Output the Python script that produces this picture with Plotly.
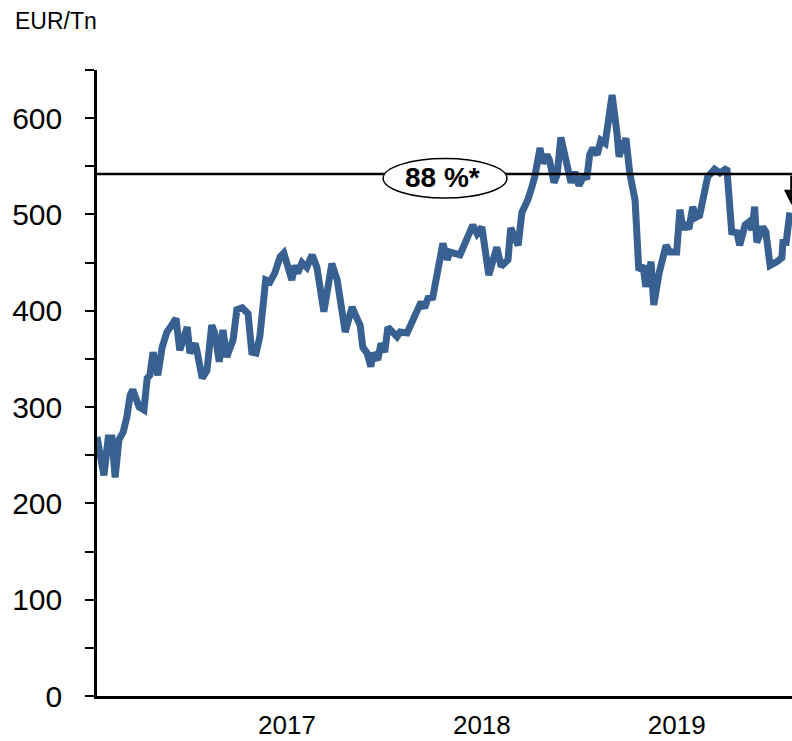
import plotly.graph_objects as go

dates = [
    "2016-01-01", "2016-01-14", "2016-01-22", "2016-01-29", "2016-02-04", "2016-02-11", "2016-02-19", "2016-02-26",
    "2016-03-03", "2016-03-08", "2016-03-20", "2016-03-29", "2016-04-04", "2016-04-09", "2016-04-15", "2016-04-24",
    "2016-05-02", "2016-05-11", "2016-05-20", "2016-05-28", "2016-06-04", "2016-06-18", "2016-06-23", "2016-07-03",
    "2016-07-06", "2016-07-16", "2016-07-25", "2016-08-03", "2016-08-09", "2016-08-17", "2016-08-24", "2016-08-31",
    "2016-09-12", "2016-09-19", "2016-09-29", "2016-10-10", "2016-10-17", "2016-10-25", "2016-11-01", "2016-11-12",
    "2016-11-20", "2016-11-29", "2016-12-09", "2016-12-16", "2016-12-31",
    "2017-01-06", "2017-01-11", "2017-01-19", "2017-01-28", "2017-02-07", "2017-02-16", "2017-02-24", "2017-03-01",
    "2017-03-16", "2017-03-26", "2017-04-10", "2017-04-23", "2017-04-28", "2017-05-08", "2017-05-13", "2017-05-21",
    "2017-05-28", "2017-06-01", "2017-06-10", "2017-06-16", "2017-06-23", "2017-06-29", "2017-07-16", "2017-07-22",
    "2017-08-04", "2017-08-19", "2017-08-30", "2017-09-06", "2017-09-12", "2017-09-21", "2017-09-29", "2017-10-10",
    "2017-10-18", "2017-10-23", "2017-11-11", "2017-11-24", "2017-12-05", "2017-12-13", "2017-12-22",
    "2018-01-04", "2018-01-19", "2018-01-27", "2018-02-09", "2018-02-14", "2018-02-28", "2018-03-07", "2018-03-13",
    "2018-03-18", "2018-03-26", "2018-03-31", "2018-04-10", "2018-04-15", "2018-04-23", "2018-04-28", "2018-05-06",
    "2018-05-12", "2018-05-19", "2018-05-30", "2018-06-07", "2018-06-14", "2018-06-22", "2018-06-29", "2018-07-07",
    "2018-07-12", "2018-07-18", "2018-07-26", "2018-08-02", "2018-08-10", "2018-08-23", "2018-09-01", "2018-09-05",
    "2018-09-10", "2018-09-18", "2018-09-25", "2018-10-05", "2018-10-08", "2018-10-12", "2018-10-20", "2018-10-25",
    "2018-11-04", "2018-11-09", "2018-11-19", "2018-12-02", "2018-12-09", "2018-12-22", "2018-12-28",
    "2019-01-03", "2019-01-06", "2019-01-14", "2019-01-21", "2019-01-27", "2019-02-03", "2019-02-09", "2019-02-18",
    "2019-03-03", "2019-03-13", "2019-03-26", "2019-04-04", "2019-04-14", "2019-04-19", "2019-04-29", "2019-05-06",
    "2019-05-12", "2019-05-17", "2019-05-21", "2019-06-01", "2019-06-07", "2019-06-15", "2019-06-28", "2019-07-07",
    "2019-07-09", "2019-07-15", "2019-07-22",
]

prices = [
    269, 229, 268, 268, 227, 266, 274, 290,
    312, 318, 300, 297, 330, 333, 357, 333,
    362, 378, 385, 392, 359, 383, 356, 366,
    359, 330, 338, 385, 376, 347, 380, 352,
    370, 401, 403, 397, 357, 356, 373, 432,
    430, 439, 456, 460, 432,
    447, 439, 450, 445, 458, 445, 413, 399,
    449, 432, 378, 404, 397, 385, 362, 356,
    342, 356, 349, 366, 357, 383, 373, 378,
    377, 397, 409, 403, 413, 414, 440, 470,
    453, 461, 458, 475, 489, 480, 487,
    437, 466, 446, 453, 486, 468, 502, 508,
    515, 529, 539, 569, 553, 562, 556, 533,
    541, 580, 556, 533, 544, 530, 538, 539,
    562, 569, 562, 577, 574, 624, 585, 560,
    569, 579, 543, 515, 484, 442, 447, 425,
    451, 406, 439, 468, 461, 461, 505,
    484, 491, 485, 508, 497, 499, 518, 539,
    547, 543, 548, 482, 481, 468, 489, 492,
    484, 508, 471, 487, 482, 447, 451, 455,
    471, 471, 502,
]

year_ticks = ["2016-12-22", "2017-12-22", "2018-12-22"]
year_labels = ["2017", "2018", "2019"]

ref_level = 542
ref_label = "88 %*"
x_start = "2016-01-01"
x_end = "2019-07-26"

fig = go.Figure()
fig.add_trace(go.Scatter(
    x=dates, y=prices, mode="lines",
    line=dict(color="#386192", width=7),
    hoverinfo="skip", showlegend=False, cliponaxis=False,
))

# horizontal reference line
fig.add_shape(type="line", xref="x", yref="y", x0=x_start, x1=x_end, y0=ref_level, y1=ref_level,
              line=dict(color="black", width=2.5), layer="above")
# ellipse label
fig.add_shape(type="circle", xref="x", yref="y", x0="2017-06-20", x1="2018-02-07", y0=517, y1=558,
              line=dict(color="black", width=1.5), fillcolor="white", layer="above")
fig.add_annotation(x="2017-10-10", y=538, xref="x", yref="y", text="<b>" + ref_label + "</b>",
                   showarrow=False, font=dict(family="Liberation Sans, Arial", size=28, color="black"))
# arrow on right edge
fig.add_annotation(x="2019-07-25", y=510, xref="x", yref="y", ax="2019-07-25", ay=ref_level,
                   axref="x", ayref="y", text="", showarrow=True, arrowhead=2, arrowsize=1.2,
                   arrowwidth=2.5, arrowcolor="black")
# unit label
fig.add_annotation(x=-0.121, y=1.078, xref="paper", yref="paper", text="EUR/Tn", showarrow=False,
                   xanchor="left", yanchor="middle", font=dict(family="Liberation Sans, Arial", size=23, color="black"))

fig.update_layout(
    width=792, height=741,
    margin=dict(l=97, r=0, t=70, b=45),
    paper_bgcolor="white", plot_bgcolor="white",
    font=dict(family="Liberation Sans, Arial", color="black"),
    showlegend=False,
)
fig.update_xaxes(
    type="date", range=[x_start, x_end], automargin=False,
    tickvals=year_ticks, ticktext=year_labels, ticks="",
    tickfont=dict(size=26), showgrid=False, zeroline=False,
    showline=True, linecolor="black", linewidth=2.5,
    ticklabelstandoff=4,
)
fig.update_yaxes(
    range=[0, 650], automargin=False, tickvals=[0, 100, 200, 300, 400, 500, 600],
    ticks="outside", ticklen=9, tickwidth=2, tickcolor="black",
    minor=dict(tickvals=[50, 150, 250, 350, 450, 550, 650], ticks="outside", ticklen=9, tickwidth=2, tickcolor="black"),
    tickfont=dict(size=30), showgrid=False, zeroline=False,
    showline=True, linecolor="black", linewidth=2.5,
    ticklabelstandoff=17,
)

fig.write_html("out.html", config={"displayModeBar": False},
               post_script="document.body.style.margin='0';")
